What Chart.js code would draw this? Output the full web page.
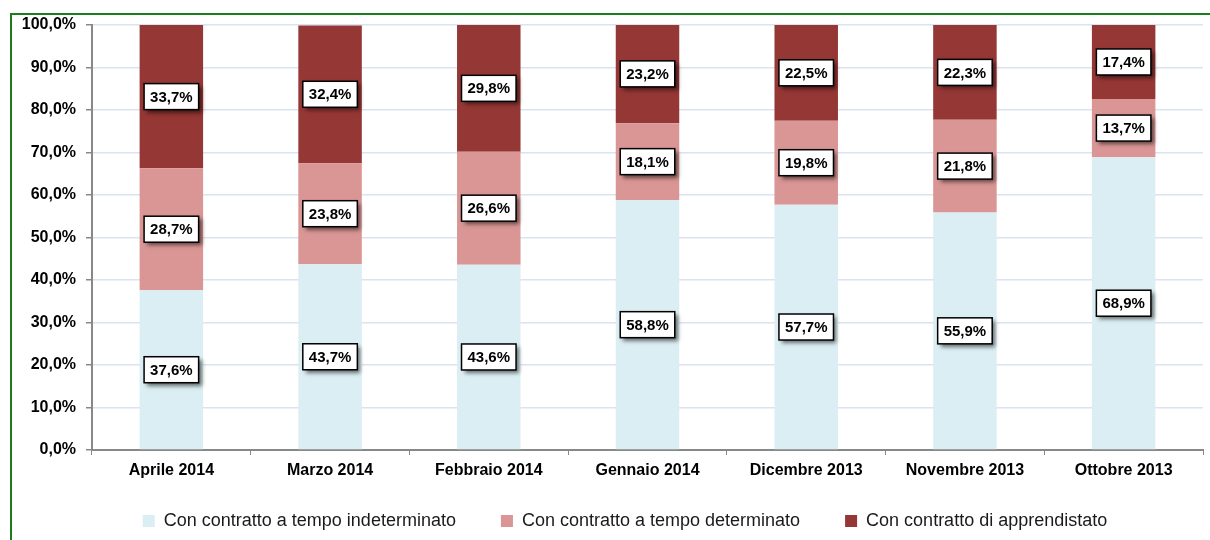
<!DOCTYPE html>
<html>
<head>
<meta charset="utf-8">
<script src="https://cdn.jsdelivr.net/npm/chart.js@4.4.1/dist/chart.umd.min.js"></script>
<style>
    body { margin: 0; background: #fff; }
    #frame { position: absolute; left: 10px; top: 13px; width: 1300px; height: 600px; border-left: 2px solid #1b7d1b; border-top: 2px solid #1b7d1b; }
    #wrap { position: absolute; left: 0; top: 0; width: 1210px; height: 540px; }
</style>
</head>
<body>
<div id="frame"></div>
<div id="wrap"><canvas id="myChart" width="1210" height="540"></canvas></div>
<script>
const months = ["Aprile 2014", "Marzo 2014", "Febbraio 2014", "Gennaio 2014", "Dicembre 2013", "Novembre 2013", "Ottobre 2013"];
const indeterminato = [37.6, 43.7, 43.6, 58.8, 57.7, 55.9, 68.9];
const determinato = [28.7, 23.8, 26.6, 18.1, 19.8, 21.8, 13.7];
const apprendistato = [33.7, 32.4, 29.8, 23.2, 22.5, 22.3, 17.4];

function FormatPct(v)
{
    return Number(v).toFixed(1).replace('.', ',') + '%';
}

// white boxed value labels with a drop shadow
const boxLabels = {
    id: 'boxLabels',
    afterLayout(chart)
    {
        // move the legend a bit so it sits like the original one
        const lg = chart.legend;
        lg.left = 47;
        lg.right = 1203;
        lg.top -= 28;
    },
    afterDatasetsDraw(chart)
    {
        const ctx = chart.ctx;
        ctx.save();
        ctx.font = 'bold 15px "Liberation Sans", Arial, sans-serif';
        ctx.textAlign = 'center';
        ctx.textBaseline = 'middle';
        chart.data.datasets.forEach((ds, i) =>
        {
            chart.getDatasetMeta(i).data.forEach((bar, j) =>
            {
                const text = FormatPct(ds.data[j]);
                const w = ctx.measureText(text).width + 12;
                const h = 26;
                const cx = bar.x;
                const cy = (bar.y + bar.base) / 2;
                ctx.shadowColor = 'rgba(0,0,0,0.55)';
                ctx.shadowBlur = 4;
                ctx.shadowOffsetX = 3;
                ctx.shadowOffsetY = 3;
                ctx.fillStyle = '#fff';
                ctx.fillRect(cx - w / 2, cy - h / 2, w, h);
                ctx.shadowColor = 'transparent';
                ctx.lineWidth = 1.5;
                ctx.strokeStyle = '#000';
                ctx.strokeRect(cx - w / 2, cy - h / 2, w, h);
                ctx.fillStyle = '#000';
                ctx.fillText(text, cx, cy + 1);
            });
        });
        ctx.restore();
    }
};

const chart = new Chart(document.getElementById("myChart"), {
    type: 'bar',
    data: {
        labels: months,
        datasets: [
            { label: 'Con contratto a tempo indeterminato', data: indeterminato, backgroundColor: '#dbeef3' },
            { label: 'Con contratto a tempo determinato', data: determinato, backgroundColor: '#d99694' },
            { label: 'Con contratto di apprendistato', data: apprendistato, backgroundColor: '#953735' }
        ]
    },
    options: {
        responsive: false,
        animation: false,
        devicePixelRatio: 1,
        categoryPercentage: 1,
        barPercentage: 0.4,
        layout: {
            padding: { left: 10, right: 7, top: 25, bottom: 0 }
        },
        plugins: {
            tooltip: { enabled: false },
            legend: {
                position: 'bottom',
                maxHeight: 45,
                labels: {
                    boxWidth: 12,
                    boxHeight: 12,
                    padding: 45,
                    color: '#1a1a1a',
                    font: { family: '"Liberation Sans", Arial, sans-serif', size: 18 }
                }
            }
        },
        scales: {
            x: {
                stacked: true,
                afterFit: function (scale) { scale.height = 45; },
                grid: {
                    drawOnChartArea: false,
                    tickLength: 5,
                    tickColor: '#888',
                    offset: true
                },
                border: { color: '#888', width: 2 },
                ticks: {
                    padding: 6,
                    color: '#000',
                    font: { family: '"Liberation Sans", Arial, sans-serif', size: 16, weight: 'bold' }
                }
            },
            y: {
                stacked: true,
                min: 0,
                max: 100,
                afterFit: function (scale) { scale.width = 82; },
                grid: {
                    color: '#dae3ef',
                    lineWidth: 1.5,
                    tickLength: 6,
                    tickColor: '#888'
                },
                border: { color: '#888', width: 2 },
                ticks: {
                    stepSize: 10,
                    padding: 10,
                    color: '#000',
                    font: { family: '"Liberation Sans", Arial, sans-serif', size: 16, weight: 'bold' },
                    callback: function (value)
                    {
                        return FormatPct(value);
                    }
                }
            }
        }
    },
    plugins: [boxLabels]
});
</script>
</body>
</html>
